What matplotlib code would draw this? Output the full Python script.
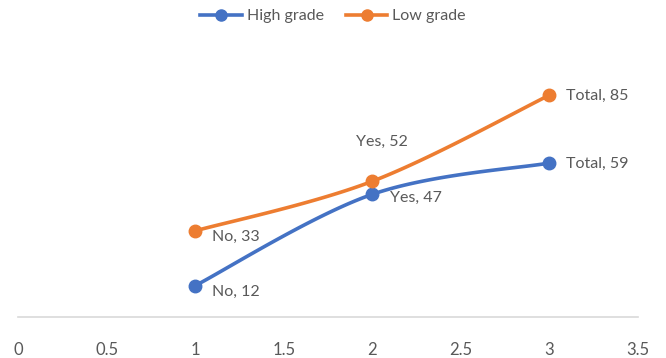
import numpy as np
import matplotlib
matplotlib.use("Agg")
import matplotlib.pyplot as plt

# Series values
x_vals = [1, 2, 3]
high_grade = [12, 47, 59]
low_grade = [33, 52, 85]
high_labels = ["No", "Yes", "Total"]
low_labels = ["No", "Yes", "Total"]
x_ticks = [0, 0.5, 1, 1.5, 2, 2.5, 3, 3.5]

BLUE = "#4472C4"
ORANGE = "#ED7D31"
GREY = "#595959"


def smooth(xs, ys, n=60):
    # Catmull-Rom style bezier through each point, like a spreadsheet "smoothed line"
    xs = np.asarray(xs, float)
    ys = np.asarray(ys, float)
    pts = np.column_stack([xs, ys])
    out = []
    for i in range(len(pts) - 1):
        p0 = pts[i - 1] if i > 0 else pts[i]
        p1 = pts[i]
        p2 = pts[i + 1]
        p3 = pts[i + 2] if i + 2 < len(pts) else pts[i + 1]
        c1 = p1 + (p2 - p0) / 6.0
        c2 = p2 - (p3 - p1) / 6.0
        t = np.linspace(0, 1, n)[:, None]
        seg = ((1 - t) ** 3) * p1 + 3 * ((1 - t) ** 2) * t * c1 \
            + 3 * (1 - t) * t ** 2 * c2 + t ** 3 * p2
        out.append(seg if i == 0 else seg[1:])
    seg = np.vstack(out)
    return seg[:, 0], seg[:, 1]


plt.rcParams["font.family"] = ["Lato", "DejaVu Sans"]

fig = plt.figure(figsize=(6.66, 3.58), dpi=100)
ax = fig.add_axes([18 / 666, 1 - 317 / 358, (638 - 18) / 666, (317 - 56) / 358])

for ys, color, name in [(high_grade, BLUE, "High grade"), (low_grade, ORANGE, "Low grade")]:
    sx, sy = smooth(x_vals, ys)
    ax.plot(sx, sy, color=color, lw=2.6, solid_capstyle="round", zorder=2)
    ax.plot(x_vals, ys, "o", color=color, ms=9, zorder=3)
    # legend proxy
    ax.plot([], [], color=color, lw=2.6, marker="o", ms=8, label=name)

# Data labels
label_offsets_high = [(17, -6), (18, -4), (17, -1)]
label_offsets_low = [(17, -6), (10, 39), (17, -1)]
for xv, yv, lab, off in zip(x_vals, high_grade, high_labels, label_offsets_high):
    ax.annotate(f"{lab}, {yv}", (xv, yv), xytext=off, textcoords="offset pixels",
                ha="left", va="center", fontsize=11.5, color=GREY)
for xv, yv, lab, off in zip(x_vals, low_grade, low_labels, label_offsets_low):
    ha = "center" if lab == "Yes" else "left"
    ax.annotate(f"{lab}, {yv}", (xv, yv), xytext=off, textcoords="offset pixels",
                ha=ha, va="center", fontsize=11.5, color=GREY)

ax.set_xlim(0, 3.5)
ax.set_ylim(0, 100)
ax.set_xticks(x_ticks)
ax.set_xticklabels([f"{t:g}" for t in x_ticks])
ax.set_yticks([])
ax.tick_params(axis="x", length=0, pad=18, labelsize=12, labelcolor=GREY)
for side in ["left", "right", "top"]:
    ax.spines[side].set_visible(False)
ax.spines["bottom"].set_color("#D9D9D9")
ax.spines["bottom"].set_linewidth(1.2)

fig.legend(loc="upper center", bbox_to_anchor=(0.5, 1.015), ncol=2, frameon=False,
           fontsize=11.5, labelcolor=GREY, handlelength=2.6, columnspacing=1.4,
           handletextpad=0.3)

fig.savefig("out.png", dpi=100)
